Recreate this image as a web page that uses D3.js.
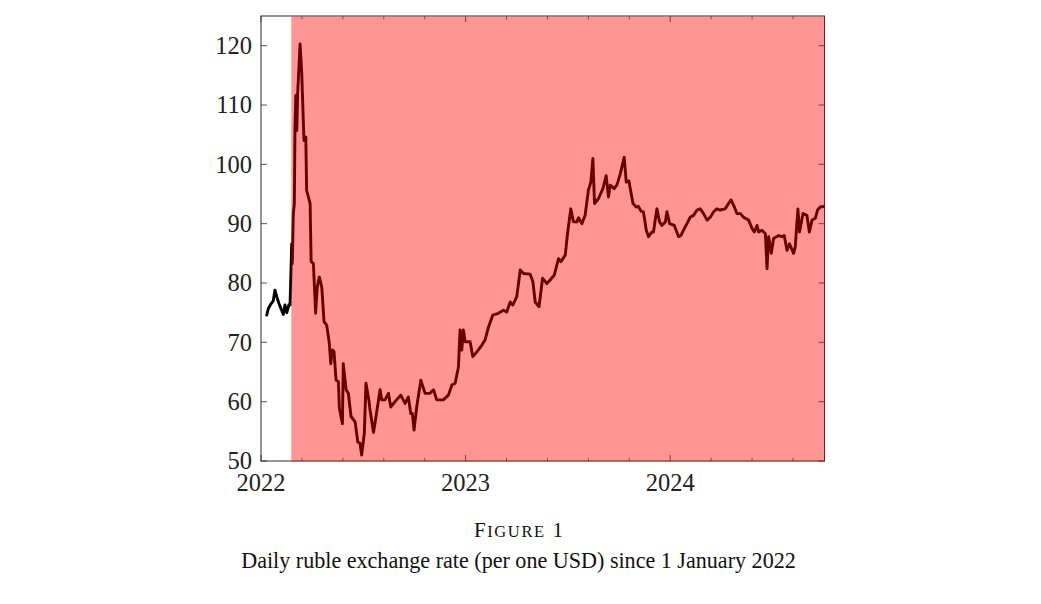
<!DOCTYPE html>
<html>
<head>
<meta charset="utf-8">
<script src="https://cdn.jsdelivr.net/npm/d3@7"></script>
<style>
    body { margin: 0; background: #fff; }
    svg { display: block; }
    .tick-label { font-family: "Liberation Serif", "DejaVu Serif", serif; fill: #222; }
    .caption { font-family: "Liberation Serif", serif; fill: #111; }
</style>
</head>
<body>
<div id="chart"></div>
<script>
// decimal years (2022.0 = 1 January 2022) and RUB per USD
const years = [
    2022.028, 2022.036, 2022.049, 2022.060, 2022.068, 2022.077, 2022.088, 2022.101, 2022.109, 2022.117,
    2022.126, 2022.137, 2022.142, 2022.150, 2022.153, 2022.158, 2022.163, 2022.166, 2022.170, 2022.175,
    2022.179, 2022.191, 2022.199, 2022.210, 2022.219, 2022.223, 2022.240, 2022.245, 2022.256, 2022.267,
    2022.275, 2022.285, 2022.297, 2022.308, 2022.321, 2022.333, 2022.341, 2022.349, 2022.357, 2022.367,
    2022.378, 2022.383, 2022.398, 2022.402, 2022.416, 2022.427, 2022.440, 2022.460, 2022.473, 2022.484,
    2022.492, 2022.505, 2022.513, 2022.527, 2022.533, 2022.550, 2022.562, 2022.582, 2022.590, 2022.606,
    2022.623, 2022.634, 2022.655, 2022.683, 2022.704, 2022.720, 2022.732, 2022.740, 2022.748, 2022.761,
    2022.781, 2022.802, 2022.826, 2022.843, 2022.859, 2022.891, 2022.916, 2022.933, 2022.949, 2022.965,
    2022.973, 2022.981, 2022.989, 2022.998, 2023.022, 2023.035, 2023.055, 2023.079, 2023.095, 2023.112,
    2023.133, 2023.160, 2023.185, 2023.201, 2023.218, 2023.231, 2023.250, 2023.267, 2023.283, 2023.315,
    2023.329, 2023.340, 2023.359, 2023.376, 2023.397, 2023.413, 2023.433, 2023.454, 2023.466, 2023.487,
    2023.498, 2023.514, 2023.527, 2023.544, 2023.552, 2023.568, 2023.584, 2023.600, 2023.612, 2023.622,
    2023.630, 2023.649, 2023.671, 2023.687, 2023.698, 2023.707, 2023.726, 2023.739, 2023.756, 2023.775,
    2023.785, 2023.798, 2023.818, 2023.834, 2023.845, 2023.857, 2023.869, 2023.883, 2023.894, 2023.911,
    2023.918, 2023.935, 2023.948, 2023.959, 2023.976, 2023.984, 2023.997, 2024.020, 2024.041, 2024.052,
    2024.065, 2024.082, 2024.098, 2024.114, 2024.131, 2024.147, 2024.163, 2024.180, 2024.196, 2024.212,
    2024.228, 2024.244, 2024.269, 2024.285, 2024.297, 2024.310, 2024.326, 2024.342, 2024.358, 2024.383,
    2024.400, 2024.411, 2024.424, 2024.432, 2024.448, 2024.465, 2024.473, 2024.481, 2024.494, 2024.505,
    2024.530, 2024.546, 2024.557, 2024.571, 2024.583, 2024.603, 2024.611, 2024.624, 2024.632, 2024.649,
    2024.668, 2024.680, 2024.693, 2024.709, 2024.720, 2024.733, 2024.750
];
const rates = [
    74.6, 75.7, 76.5, 77.0, 78.8, 77.7, 76.5, 75.4, 74.7, 76.3,
    75.0, 76.4, 76.3, 86.6, 83.3, 91.7, 93.4, 105.7, 111.6, 105.7,
    111.9, 120.3, 115.5, 104.0, 104.6, 95.6, 93.4, 83.6, 83.3, 74.9,
    79.3, 81.0, 79.3, 73.5, 72.9, 70.1, 66.4, 68.7, 68.4, 63.6,
    63.4, 58.9, 56.3, 66.4, 62.0, 61.4, 57.5, 56.6, 53.2, 53.0,
    51.0, 54.7, 63.1, 60.3, 58.6, 54.8, 57.5, 62.0, 60.3, 60.3,
    61.4, 59.1, 60.0, 61.1, 59.7, 60.8, 58.0, 58.0, 55.2, 59.1,
    63.6, 61.4, 61.4, 62.0, 60.3, 60.3, 61.1, 62.8, 63.1, 65.9,
    72.1, 68.7, 72.1, 70.1, 70.1, 67.6, 68.4, 69.5, 70.4, 72.6,
    74.6, 74.9, 75.4, 75.1, 76.8, 76.3, 77.7, 82.2, 81.6, 81.5,
    80.2, 76.8, 76.0, 80.8, 79.9, 80.5, 81.3, 84.1, 83.6, 84.7,
    88.3, 92.5, 90.3, 90.3, 91.0, 90.0, 91.4, 95.6, 97.0, 101.0,
    93.4, 94.2, 95.9, 98.1, 94.5, 96.5, 95.9, 96.5, 98.4, 101.2,
    97.0, 97.2, 93.4, 92.8, 92.9, 92.1, 92.0, 88.9, 87.8, 88.6,
    88.6, 92.5, 90.3, 89.7, 90.3, 92.0, 90.0, 89.7, 87.8, 88.0,
    88.9, 90.0, 91.1, 91.4, 92.3, 92.5, 91.7, 90.6, 91.1, 92.0,
    92.5, 92.3, 92.5, 93.4, 94.0, 93.1, 91.7, 91.7, 91.1, 90.6,
    89.2, 88.6, 89.7, 88.6, 88.9, 88.3, 82.4, 87.8, 85.0, 87.5,
    88.0, 87.8, 88.0, 85.5, 86.6, 85.0, 86.1, 92.5, 88.6, 91.7,
    91.4, 88.6, 90.6, 90.9, 92.3, 92.8, 92.9
];

const yTicks = [50, 60, 70, 80, 90, 100, 110, 120];
const xTicks = [2022, 2023, 2024];
const xDomain = [2022, 2024.754];
const yDomain = [50, 125];
const invasionStart = 2022.148;   // 24 February 2022

const captionLabel = "Figure 1";
const captionText = "Daily ruble exchange rate (per one USD) since 1 January 2022";

const data = years.map((y, i) => ({year: y, rate: rates[i]}));

const fullWidth = 1041, fullHeight = 604;
const margin = {top: 16, right: 216.5, bottom: 143, left: 261};
const width = fullWidth - margin.left - margin.right;
const height = fullHeight - margin.top - margin.bottom;

const svg = d3.select("#chart")
    .append("svg")
    .attr("width", fullWidth)
    .attr("height", fullHeight);

const g = svg.append("g")
    .attr("transform", `translate(${margin.left},${margin.top})`);

const x = d3.scaleLinear().domain(xDomain).range([0, width]);
const y = d3.scaleLinear().domain(yDomain).range([height, 0]);

// minor ticks every 0.2 year
const xMinor = d3.range(2022.2, xDomain[1], 0.2).filter(v => Math.abs(v - Math.round(v)) > 1e-6);

// frame
g.append("rect")
    .attr("x", 0).attr("y", 0)
    .attr("width", width).attr("height", height)
    .attr("fill", "none")
    .attr("stroke", "#2b2b2b")
    .attr("stroke-width", 1);

const tickColor = "#2b2b2b";

// inward ticks on all four sides
g.selectAll(".xmaj-b").data(xTicks).enter().append("line")
    .attr("x1", d => x(d)).attr("x2", d => x(d))
    .attr("y1", height).attr("y2", height - 6)
    .attr("stroke", tickColor).attr("stroke-width", 0.8);
g.selectAll(".xmaj-t").data(xTicks).enter().append("line")
    .attr("x1", d => x(d)).attr("x2", d => x(d))
    .attr("y1", 0).attr("y2", 6)
    .attr("stroke", tickColor).attr("stroke-width", 0.8);
g.selectAll(".xmin-b").data(xMinor).enter().append("line")
    .attr("x1", d => x(d)).attr("x2", d => x(d))
    .attr("y1", height).attr("y2", height - 3.3)
    .attr("stroke", tickColor).attr("stroke-width", 0.7);
g.selectAll(".xmin-t").data(xMinor).enter().append("line")
    .attr("x1", d => x(d)).attr("x2", d => x(d))
    .attr("y1", 0).attr("y2", 3.3)
    .attr("stroke", tickColor).attr("stroke-width", 0.7);
g.selectAll(".ymaj-l").data(yTicks).enter().append("line")
    .attr("x1", 0).attr("x2", 6)
    .attr("y1", d => y(d)).attr("y2", d => y(d))
    .attr("stroke", tickColor).attr("stroke-width", 0.8);
g.selectAll(".ymaj-r").data(yTicks).enter().append("line")
    .attr("x1", width).attr("x2", width - 6)
    .attr("y1", d => y(d)).attr("y2", d => y(d))
    .attr("stroke", tickColor).attr("stroke-width", 0.8);

// tick labels
g.selectAll(".ylab").data(yTicks).enter().append("text")
    .attr("class", "tick-label")
    .attr("x", -9)
    .attr("y", d => y(d))
    .attr("dy", "0.34em")
    .attr("text-anchor", "end")
    .style("font-size", "24.5px")
    .text(d => d);

g.selectAll(".xlab").data(xTicks).enter().append("text")
    .attr("class", "tick-label")
    .attr("x", d => x(d))
    .attr("y", height + 30)
    .attr("text-anchor", "middle")
    .style("font-size", "24.5px")
    .text(d => d);

// exchange rate
const line = d3.line()
    .x(d => x(d.year))
    .y(d => y(d.rate));

g.append("path")
    .datum(data)
    .attr("fill", "none")
    .attr("stroke", "#000")
    .attr("stroke-width", 2.9)
    .attr("stroke-linejoin", "round")
    .attr("stroke-linecap", "round")
    .attr("d", line);

// period since the invasion, drawn over everything
g.append("rect")
    .attr("x", x(invasionStart))
    .attr("y", 0.6)
    .attr("width", x(xDomain[1]) - x(invasionStart) + 0.5)
    .attr("height", height)
    .attr("fill", "red")
    .attr("fill-opacity", 0.41);

// caption
const capX = 518.5;
const fig = svg.append("text")
    .attr("class", "caption")
    .attr("x", capX + 0.8)
    .attr("y", 536.5)
    .attr("text-anchor", "middle")
    .style("font-size", "21px")
    .style("letter-spacing", "1.6px");
fig.append("tspan").text(captionLabel[0].toUpperCase());
fig.append("tspan").style("font-size", "16.5px").text(captionLabel.slice(1, 6).toUpperCase());
fig.append("tspan").text(captionLabel.slice(6));

svg.append("text")
    .attr("class", "caption")
    .attr("x", capX)
    .attr("y", 567.5)
    .attr("text-anchor", "middle")
    .style("font-size", "22.1px")
    .text(captionText);
</script>
</body>
</html>
